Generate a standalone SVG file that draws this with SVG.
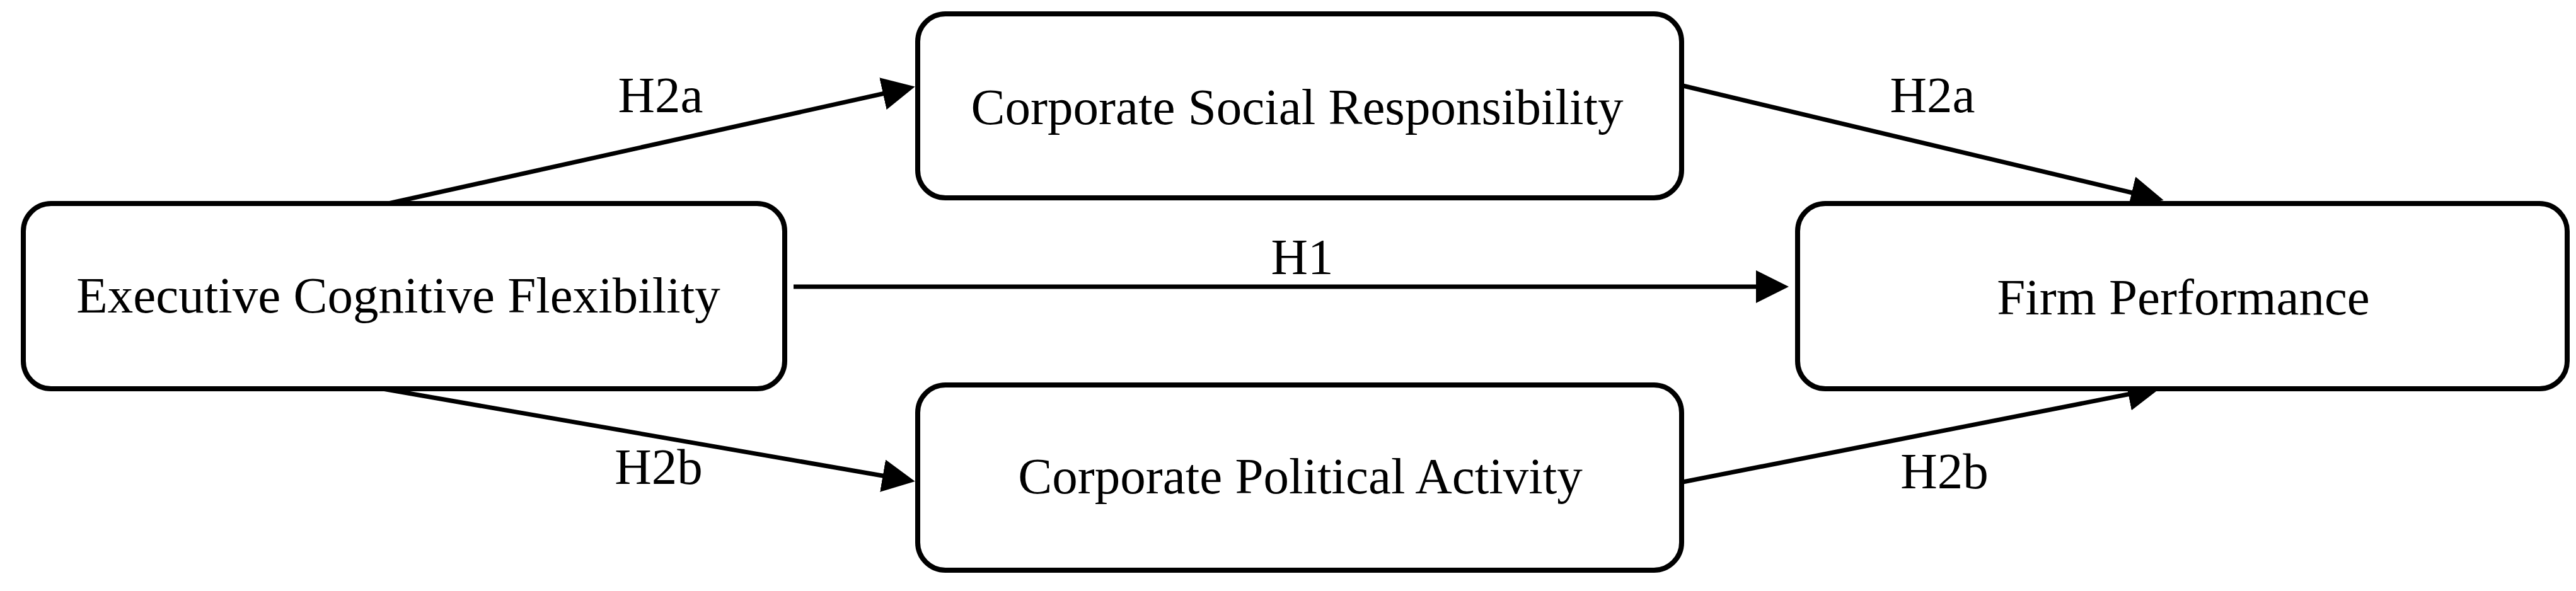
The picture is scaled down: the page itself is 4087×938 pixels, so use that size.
<svg xmlns="http://www.w3.org/2000/svg" width="4087" height="938" viewBox="0 0 4087 938">
<style>
.box{fill:#fff;stroke:#000;stroke-width:8}
.lbl{font-family:"Liberation Serif","Times New Roman",serif;font-size:81px;fill:#000;text-anchor:middle}
.edge{stroke:#000;stroke-width:7;fill:none;marker-end:url(#arr)}
</style>
<defs>
<marker id="arr" markerUnits="userSpaceOnUse" markerWidth="52" markerHeight="52" refX="40" refY="26" orient="auto" viewBox="0 0 52 52">
<path d="M0,0 L52,26 L0,52 z" fill="#000"/>
</marker>
</defs>
<rect width="4087" height="938" fill="#fff"/>
<g id="connectors">
<line class="edge" x1="616" y1="323" x2="1440" y2="140"/>
<line class="edge" x1="2670" y1="136" x2="3421" y2="315"/>
<line class="edge" x1="1259" y1="455" x2="2826" y2="455"/>
<line class="edge" x1="607" y1="617" x2="1440" y2="762"/>
<line class="edge" x1="2670" y1="765" x2="3416" y2="618"/>
<text class="lbl" x="1048" y="178">H2a</text>
<text class="lbl" x="3066" y="178">H2a</text>
<text class="lbl" x="2066" y="435">H1</text>
<text class="lbl" x="1045" y="768">H2b</text>
<text class="lbl" x="3085" y="775">H2b</text>
</g>
<g id="ecf">
<rect class="box" x="37" y="323" width="1208" height="294" rx="44"/>
<text class="lbl" x="632" y="496">Executive Cognitive Flexibility</text>
</g>
<g id="csr">
<rect class="box" x="1456" y="22" width="1212" height="292" rx="44"/>
<text class="lbl" x="2058" y="197">Corporate Social Responsibility</text>
</g>
<g id="cpa">
<rect class="box" x="1456" y="611" width="1212" height="294" rx="44"/>
<text class="lbl" x="2063" y="783">Corporate Political Activity</text>
</g>
<g id="fp">
<rect class="box" x="2852" y="323" width="1221" height="294" rx="44"/>
<text class="lbl" x="3464" y="499">Firm Performance</text>
</g>
</svg>
